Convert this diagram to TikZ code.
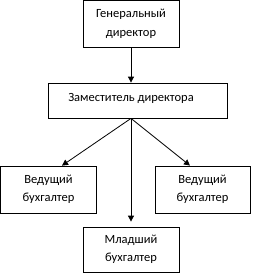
\documentclass[tikz,border=0pt]{standalone}
\usepackage{fontspec}
\setmainfont{Carlito}
\usetikzlibrary{arrows.meta}
\begin{document}
\begin{tikzpicture}[x=1pt,y=-1pt,
  txt/.style={font=\fontsize{12.5}{18.5}\selectfont,align=center,inner sep=0pt},
  box/.style={draw,line width=0.8pt,txt},
  arr/.style={line width=0.8pt,-{Triangle[length=6pt,width=6pt]}}]
\useasboundingbox (0,0) rectangle (253,274);
\node[box,minimum width=96pt,minimum height=47pt] (gd) at (131,24) {Генеральный\\директор};
\node[box,minimum width=179pt,minimum height=35pt] (zd) at (137.5,100.5) {};
\node[txt] (zdt) at (131,98) {Заместитель директора};
\node[box,minimum width=96pt,minimum height=47pt] (lb) at (48.5,189.5) {Ведущий\\бухгалтер};
\node[box,minimum width=95pt,minimum height=47pt] (rb) at (202.5,189.5) {Ведущий\\бухгалтер};
\node[box,minimum width=96pt,minimum height=45pt] (mb) at (131,249.5) {Младший\\бухгалтер};
\coordinate (src) at (zd.south -| gd.south);
\draw[arr] (gd.south) -- (gd.south |- zd.north);
\draw[arr] (src) -- ([xshift=13.5pt]lb.north);
\draw[arr] (src) -- ([xshift=-12.5pt]rb.north);
\draw[arr,shorten >=5pt] (src) -- (mb.north);
\end{tikzpicture}
\end{document}
